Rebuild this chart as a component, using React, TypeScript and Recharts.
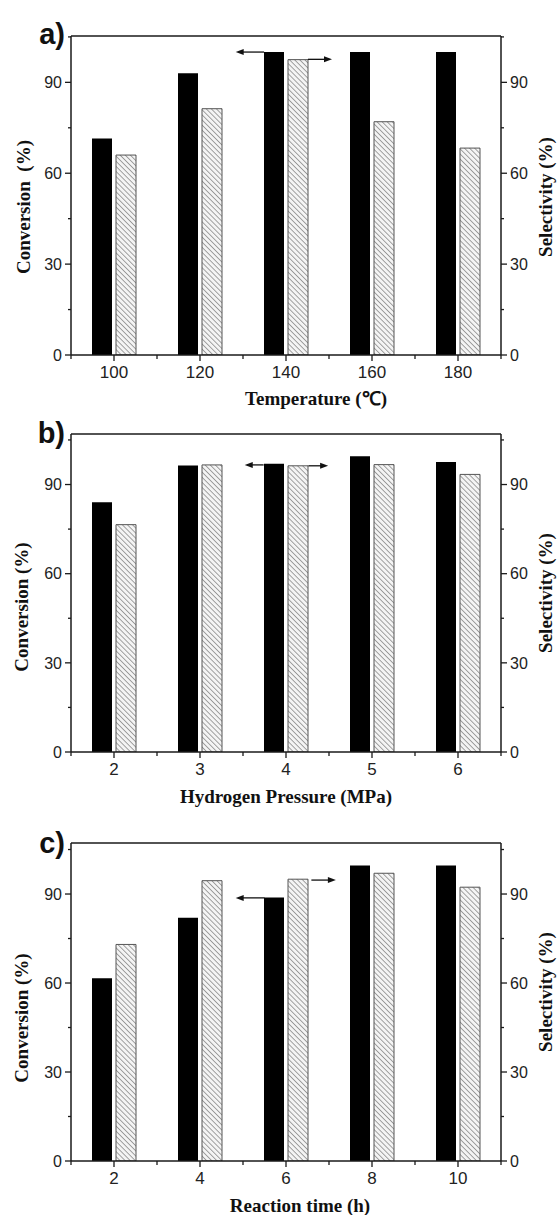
import { BarChart, Bar, XAxis, YAxis, ReferenceLine } from 'recharts';

// panel a: temperature series
const temperatures = ['100', '120', '140', '160', '180'];
const tempConversion = [71.5, 93, 100, 100, 100];
const tempSelectivity = [66, 81.3, 97.5, 77, 68.3];

// panel b: hydrogen pressure series
const pressures = ['2', '3', '4', '5', '6'];
const pressureConversion = [84, 96.4, 97, 99.5, 97.6];
const pressureSelectivity = [76.5, 96.6, 96.3, 96.7, 93.4];

// panel c: reaction time series
const times = ['2', '4', '6', '8', '10'];
const timeConversion = [61.6, 82, 88.8, 99.6, 99.6];
const timeSelectivity = [73, 94.5, 95, 97, 92.3];

const yTicks = [0, 15, 30, 45, 60, 75, 90, 105];

const W = 558;
const PLOT_W = 430;
const AXIS = '#1a1a1a';
const SANS = 'Arial, "Liberation Sans", sans-serif';
const SERIF = '"Times New Roman", "Liberation Serif", serif';

const LeftTick = ({ x, y, payload }: any) => {
  const major = payload.value % 30 === 0;
  return (
    <g>
      <line x1={x - (major ? 6 : 3)} x2={x} y1={y} y2={y} stroke={AXIS} strokeWidth={1.3} />
      {major && (
        <text x={x - 9} y={y} dy="0.36em" textAnchor="end" fontFamily={SANS} fontSize={16} fill="#222">
          {payload.value}
        </text>
      )}
    </g>
  );
};

const RightTick = ({ x, y, payload }: any) => {
  const major = payload.value % 30 === 0;
  return (
    <g>
      <line x1={x} x2={x + (major ? 6 : 3)} y1={y} y2={y} stroke={AXIS} strokeWidth={1.3} />
      {major && (
        <text x={x + 9} y={y} dy="0.36em" textAnchor="start" fontFamily={SANS} fontSize={16} fill="#222">
          {payload.value}
        </text>
      )}
    </g>
  );
};

const makeXTick = (count: number) => ({ x, y, payload, index }: any) => {
  const band = PLOT_W / count;
  return (
    <g>
      <line x1={x} x2={x} y1={y} y2={y + 6} stroke={AXIS} strokeWidth={1.3} />
      <line x1={x - band / 2} x2={x - band / 2} y1={y} y2={y + 4} stroke={AXIS} strokeWidth={1.3} />
      {index === count - 1 && (
        <line x1={x + band / 2} x2={x + band / 2} y1={y} y2={y + 4} stroke={AXIS} strokeWidth={1.3} />
      )}
      <text x={x} y={y + 23} textAnchor="middle" fontFamily={SANS} fontSize={17} fill="#222">
        {payload.value}
      </text>
    </g>
  );
};

const ArrowShape = (props: any) => {
  const { x1, y1, x2, y2 } = props;
  if (x1 == null || x2 == null) return <g />;
  const dir = x2 > x1 ? 1 : -1;
  return (
    <g>
      <line x1={x1} y1={y1} x2={x2 - dir * 6} y2={y2} stroke="#111" strokeWidth={1.3} />
      <polygon
        points={`${x2},${y2} ${x2 - dir * 8},${y2 - 3} ${x2 - dir * 8},${y2 + 3}`}
        fill="#111"
      />
    </g>
  );
};

interface Arrow {
  from: number;
  to: number;
  y: number;
}

interface PanelProps {
  top: number;
  height: number;
  plotH: number;
  categories: string[];
  conversion: number[];
  selectivity: number[];
  yMax: number;
  numDomain: [number, number];
  arrows: Arrow[];
}

function Panel({ top, height, plotH, categories, conversion, selectivity, yMax, numDomain, arrows }: PanelProps) {
  const data = categories.map((c, i) => ({
    name: c,
    xv: Number(c),
    conversion: conversion[i],
    selectivity: selectivity[i],
  }));
  const ticks = yTicks.filter((t) => t <= yMax);
  return (
    <div style={{ position: 'absolute', left: 0, top }}>
      <BarChart
        width={W}
        height={height}
        data={data}
        margin={{ top: 36, right: 17, left: 31, bottom: height - 36 - plotH - 30 }}
      >
        <XAxis
          xAxisId="cat"
          dataKey="name"
          interval={0}
          height={30}
          tickSize={0}
          tickMargin={0}
          tickLine={false}
          axisLine={{ stroke: AXIS, strokeWidth: 1.5 }}
          tick={makeXTick(categories.length)}
        />
        <XAxis xAxisId="num" dataKey="xv" type="number" domain={numDomain} allowDataOverflow hide />
        <YAxis
          yAxisId="left"
          domain={[0, yMax]}
          ticks={ticks}
          interval={0}
          allowDataOverflow
          width={40}
          tickSize={0}
          tickMargin={0}
          tickLine={false}
          axisLine={{ stroke: AXIS, strokeWidth: 1.5 }}
          tick={LeftTick}
        />
        <YAxis
          yAxisId="right"
          orientation="right"
          domain={[0, yMax]}
          ticks={ticks}
          interval={0}
          allowDataOverflow
          width={40}
          tickSize={0}
          tickMargin={0}
          tickLine={false}
          axisLine={{ stroke: AXIS, strokeWidth: 1.5 }}
          tick={RightTick}
        />
        <ReferenceLine xAxisId="num" yAxisId="left" y={yMax} stroke={AXIS} strokeWidth={1.5} ifOverflow="visible" />
        <Bar
          xAxisId="cat"
          yAxisId="left"
          dataKey="conversion"
          fill="#000"
          barSize={20}
          isAnimationActive={false}
        />
        <Bar
          xAxisId="cat"
          yAxisId="right"
          dataKey="selectivity"
          fill="url(#hatch)"
          stroke="#555"
          strokeWidth={1}
          barSize={20}
          isAnimationActive={false}
        />
        {arrows.map((a, i) => (
          <ReferenceLine
            key={i}
            xAxisId="num"
            yAxisId="left"
            segment={[{ x: a.from, y: a.y }, { x: a.to, y: a.y }]}
            shape={ArrowShape}
          />
        ))}
      </BarChart>
    </div>
  );
}

const titleStyle = { fontFamily: SERIF, fontWeight: 'bold' as const, fontSize: 19, fill: '#111', whiteSpace: 'pre' as const };
const letterStyle = { fontFamily: SANS, fontWeight: 'bold' as const, fontSize: 29, fill: '#111' };

function VTitle({ x, y, text }: { x: number; y: number; text: string }) {
  return (
    <text transform={`translate(${x},${y}) rotate(-90)`} textAnchor="middle" dominantBaseline="central" style={titleStyle}>
      {text}
    </text>
  );
}

export default function App() {
  return (
    <div style={{ position: 'absolute', left: 0, top: 0, width: W, height: 1215, background: '#fff' }}>
      <svg width={0} height={0} style={{ position: 'absolute' }}>
        <defs>
          <pattern id="hatch" patternUnits="userSpaceOnUse" width={3.6} height={3.6} patternTransform="rotate(-45)">
            <rect width={3.6} height={3.6} fill="#f4f4f4" />
            <line x1={0} y1={0} x2={0} y2={3.6} stroke="#6a6a6a" strokeWidth={1.2} />
          </pattern>
        </defs>
      </svg>
      <Panel
        top={0}
        height={395}
        plotH={319}
        categories={temperatures}
        conversion={tempConversion}
        selectivity={tempSelectivity}
        yMax={105.3}
        numDomain={[90, 190]}
        arrows={[
          { from: 134.9, to: 128.3, y: 100 },
          { from: 145.1, to: 150.7, y: 97.6 },
        ]}
      />
      <Panel
        top={398}
        height={394}
        plotH={318}
        categories={pressures}
        conversion={pressureConversion}
        selectivity={pressureSelectivity}
        yMax={107}
        numDomain={[1.5, 6.5]}
        arrows={[
          { from: 3.74, to: 3.52, y: 96.6 },
          { from: 4.26, to: 4.49, y: 96.3 },
        ]}
      />
      <Panel
        top={807}
        height={394}
        plotH={318}
        categories={times}
        conversion={timeConversion}
        selectivity={timeSelectivity}
        yMax={107.2}
        numDomain={[1, 11]}
        arrows={[
          { from: 5.5, to: 4.83, y: 88.7 },
          { from: 6.59, to: 7.16, y: 94.7 },
        ]}
      />
      <svg width={W} height={1215} style={{ position: 'absolute', left: 0, top: 0, pointerEvents: 'none' }}>
        <text x={65} y={44} textAnchor="end" style={letterStyle}>a)</text>
        <text x={65} y={443} textAnchor="end" style={letterStyle}>b)</text>
        <text x={65} y={853} textAnchor="end" style={letterStyle}>c)</text>

        <text x={316} y={405} textAnchor="middle" style={titleStyle}>Temperature (℃)</text>
        <text x={286} y={803} textAnchor="middle" style={titleStyle}>Hydrogen Pressure (MPa)</text>
        <text x={300} y={1212} textAnchor="middle" style={titleStyle}>Reaction time (h)</text>

        <VTitle x={23} y={207} text="Conversion  (%)" />
        <VTitle x={21} y={607} text="Conversion (%)" />
        <VTitle x={21} y={1018} text="Conversion (%)" />

        <VTitle x={545} y={197} text="Selectivity (%)" />
        <VTitle x={545} y={593} text="Selectivity (%)" />
        <VTitle x={545} y={992} text="Selectivity (%)" />
      </svg>
    </div>
  );
}
